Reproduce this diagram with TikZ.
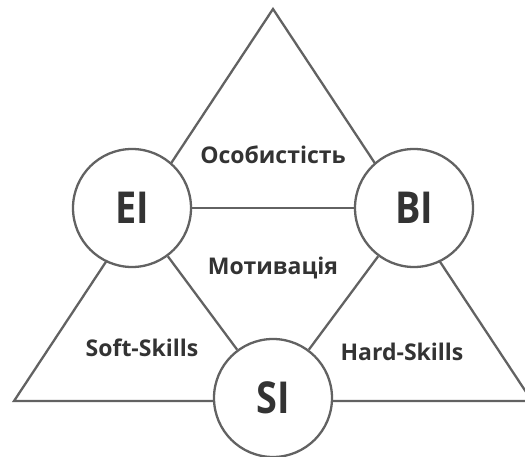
\documentclass[tikz,border=0pt]{standalone}
\usepackage{fontspec}
\setmainfont{Open Sans}
\newfontfamily\hubfont[FakeStretch=0.86]{Open Sans}
\definecolor{linec}{HTML}{626262}
\definecolor{textc}{HTML}{333333}
\begin{document}
\begin{tikzpicture}[x=1pt,y=-1pt,
  lin/.style={draw=linec,line width=2.3pt},
  hub/.style={circle,lin,fill=white,minimum size=118pt,inner sep=0pt,
    text=textc,font=\hubfont\fontsize{44}{48}\selectfont\bfseries},
  lab/.style={text=textc,font=\fontsize{23}{26}\selectfont\bfseries,inner sep=0pt}]
\useasboundingbox (0,0) rectangle (525,457);
\coordinate (top) at (273,9);
\coordinate (bl) at (14,401);
\coordinate (br) at (532,401);
\draw[lin,line join=miter] (top) -- (br) -- (bl) -- cycle;
\node[hub] (EI) at (132,208) {EI};
\node[hub] (BI) at (414,208) {BI};
\node[hub] (SI) at (273,398) {SI};
\draw[lin] (EI) -- (BI);
\draw[lin] (EI) -- (SI);
\draw[lin] (BI) -- (SI);
\node[lab] (pers) at (273,155) {Особистість};
\node[lab] (mot) at (273,268) {Мотивація};
\node[lab] (soft) at (142,348) {Soft-Skills};
\node[lab] (hard) at (402,352) {Hard-Skills};
\end{tikzpicture}
\end{document}
